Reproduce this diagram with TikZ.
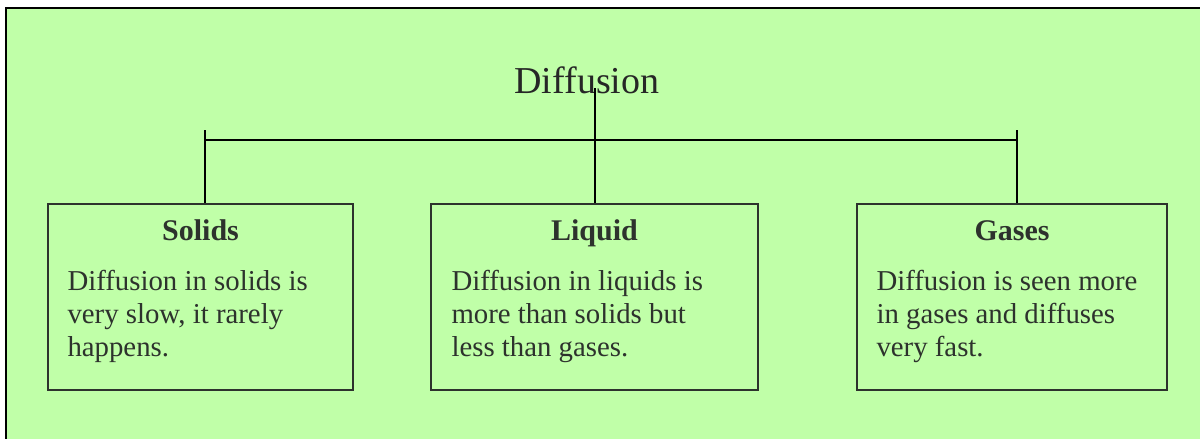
\documentclass[tikz,border=0pt]{standalone}
\usepackage{fontspec}
\setmainfont{Liberation Serif}
\usepackage{tikz}
\usetikzlibrary{positioning,calc}
\usepackage{xcolor}
\definecolor{ink}{RGB}{45,50,45}
\definecolor{leaf}{RGB}{192,255,168}
\tikzset{
  panel/.style={draw=ink,line width=0.9pt,minimum height=93pt,inner sep=0pt},
  head/.style={font=\fontsize{15}{17}\selectfont\bfseries,text=ink,anchor=base,inner sep=0pt},
  body/.style={font=\fontsize{14.4}{16.5}\selectfont,text=ink,align=left,anchor=base west,inner sep=0pt},
  link/.style={line width=0.75pt,black},
}

\begin{document}
\begin{tikzpicture}[x=0.5pt,y=-0.5pt]
  \useasboundingbox (0,0) rectangle (1200,439);
  \fill[white] (0,0) rectangle (1200,439);
  \fill[leaf] (6,8) rectangle (1200,439);
  \draw[black,line width=1pt] (6,439) -- (6,8) -- (1200,8);
  % title
  \node[font=\fontsize{19}{22}\selectfont,text=black!85,anchor=base,inner sep=0pt] (title) at (587,93) {Diffusion};
  % boxes
  \node[panel,minimum width=152.5pt] (solids) at (200.5,297) {};
  \node[panel,minimum width=163.5pt] (liquid) at (594.5,297) {};
  \node[panel,minimum width=155pt] (gases) at (1012,297) {};
  \node[head] (hs) at ($(solids.north)+(0,37)$) {Solids};
  \node[head] (hl) at ($(liquid.north)+(0,37)$) {Liquid};
  \node[head] (hg) at ($(gases.north)+(0,37)$) {Gases};
  \node[body] (ts) at ($(solids.north west)+(20,153)$) {Diffusion in solids is\\very slow, it rarely\\happens.};
  \node[body] (tl) at ($(liquid.north west)+(21,153)$) {Diffusion in liquids is\\more than solids but\\less than gases.};
  \node[body] (tg) at ($(gases.north west)+(20,153)$) {Diffusion is seen more\\in gases and diffuses\\very fast.};
  % tree lines
  \coordinate (top) at (595,88);
  \coordinate (lt) at (205,130);
  \coordinate (rt) at (1017,130);
  \coordinate (junction) at (595,140);
  \draw[link] (top) -- (top |- liquid.north);
  \draw[link] (lt |- junction) -- (rt |- junction);
  \draw[link] (lt) -- (lt |- solids.north);
  \draw[link] (rt) -- (rt |- gases.north);
\end{tikzpicture}
\end{document}
